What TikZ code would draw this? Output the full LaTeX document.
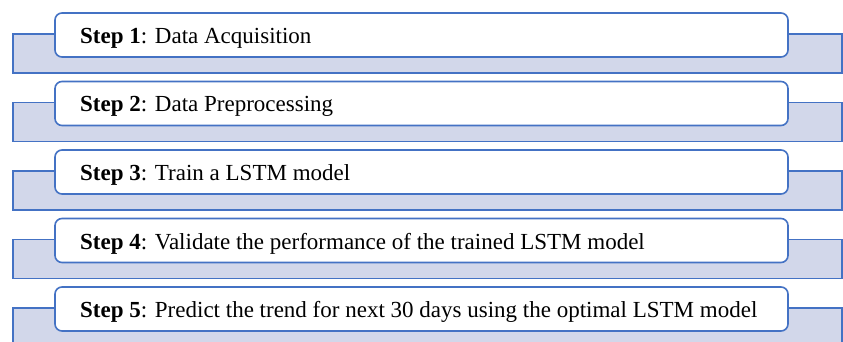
\documentclass[tikz,border=0pt]{standalone}
\usepackage{fontspec}
\setmainfont{Liberation Serif}
\definecolor{edgeblue}{HTML}{4472C4}
\definecolor{bandfill}{HTML}{D2D7EA}
\begin{document}
\begin{tikzpicture}[x=1pt,y=-1pt,
  band/.style={draw=edgeblue,fill=bandfill,line width=1.6pt},
  stepbox/.style={draw=edgeblue,fill=white,line width=1.6pt,rounded corners=7pt},
  steptext/.style={anchor=base west,font=\fontsize{23}{27}\selectfont,inner sep=0pt}]
\useasboundingbox (0,0) rectangle (843,342);
\begin{scope}
\clip (0,0) rectangle (843,342);
\foreach \i/\txt in {1/Data Acquisition,
                     2/Data Preprocessing,
                     3/Train a LSTM model,
                     4/Validate the performance of the trained LSTM model,
                     5/Predict the trend for next 30 days using the optimal LSTM model}{
  \pgfmathsetmacro{\top}{13+(\i-1)*68.5}
  \draw[band] (13,\top+21) rectangle (842,\top+60);
  \draw[stepbox] (55,\top) rectangle (788,\top+44);
  \node[steptext] (s\i) at (80,\top+30.5) {\textbf{Step \i}: \txt};
}
\end{scope}
\end{tikzpicture}
\end{document}
